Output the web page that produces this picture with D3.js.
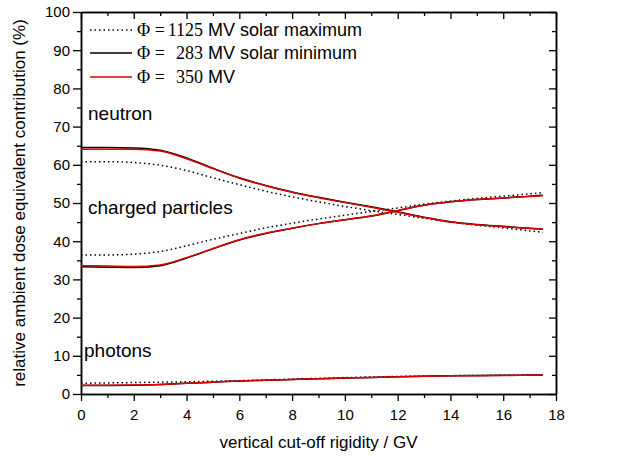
<!DOCTYPE html>
<html>
<head>
<meta charset="utf-8">
<script src="https://cdn.jsdelivr.net/npm/d3@7"></script>
<style>
  body { margin: 0; background: #fff; }
  text { font-family: "Liberation Sans", Arial, sans-serif; fill: #000; }
</style>
</head>
<body>
<div id="chart"></div>
<script>
// rigidity values (GV)
const rigidity = [0, 1, 2, 3, 4, 5, 6, 7, 8, 9, 10, 11, 12, 13, 14, 15, 16, 17, 17.5];

// neutron contribution (%)
const neutronMax = [60.8, 60.8, 60.6, 59.9, 58.5, 56.6, 54.8, 53.1, 51.6, 50.3, 49.1, 48.0, 47.0, 46.0, 45.0, 44.2, 43.5, 42.7, 42.3];
const neutronMin = [64.5, 64.5, 64.4, 63.8, 61.8, 59.1, 56.6, 54.6, 52.9, 51.5, 50.2, 49.0, 47.7, 46.3, 45.1, 44.4, 43.9, 43.4, 43.2];
const neutron350 = [64.1, 64.1, 64.1, 63.6, 61.6, 59.0, 56.5, 54.5, 52.8, 51.4, 50.1, 48.9, 47.6, 46.2, 45.0, 44.3, 43.8, 43.3, 43.1];

// charged particles contribution (%)
const chargedMax = [36.4, 36.4, 36.6, 37.3, 38.8, 40.5, 42.0, 43.5, 44.7, 45.8, 46.8, 47.8, 48.7, 49.7, 50.5, 51.2, 51.8, 52.4, 52.7];
const chargedMin = [33.3, 33.2, 33.1, 33.6, 35.6, 38.0, 40.3, 42.0, 43.4, 44.6, 45.6, 46.6, 48.0, 49.4, 50.3, 50.9, 51.3, 51.8, 52.0];
const charged350 = [33.6, 33.5, 33.4, 33.8, 35.7, 38.1, 40.4, 42.1, 43.4, 44.6, 45.6, 46.6, 48.0, 49.4, 50.3, 50.9, 51.3, 51.7, 51.9];

// photon contribution (%)
const photonMax = [2.8, 2.9, 3.0, 3.1, 3.2, 3.35, 3.5, 3.7, 3.9, 4.1, 4.3, 4.45, 4.6, 4.7, 4.8, 4.85, 4.9, 4.95, 5.0];
const photonMin = [2.2, 2.25, 2.3, 2.5, 2.8, 3.1, 3.4, 3.6, 3.8, 4.0, 4.2, 4.35, 4.5, 4.65, 4.8, 4.85, 4.9, 4.95, 5.0];
const photon350 = [2.3, 2.3, 2.35, 2.5, 2.8, 3.1, 3.4, 3.6, 3.8, 4.0, 4.2, 4.35, 4.5, 4.65, 4.75, 4.8, 4.85, 4.9, 4.95];

const xTicks = [0, 2, 4, 6, 8, 10, 12, 14, 16, 18];
const yTicks = [0, 10, 20, 30, 40, 50, 60, 70, 80, 90, 100];

const legendNumbers = ["1125", "283", "350"];
const legendLabels = ["MV solar maximum", "MV solar minimum", "MV"];

const width = 628, height = 456;
const margin = {top: 12, right: 72, bottom: 62, left: 81};
const w = width - margin.left - margin.right;
const h = height - margin.top - margin.bottom;

const svg = d3.select("#chart")
    .append("svg")
    .attr("width", width)
    .attr("height", height)
    .append("g")
    .attr("transform", "translate(" + margin.left + "," + margin.top + ")");

const x = d3.scaleLinear().domain([0, 18]).range([0, w]);
const y = d3.scaleLinear().domain([0, 100]).range([h, 0]);

// Axes: major + minor ticks
function styleAxis(g) {
    g.select(".domain").attr("stroke", "#000").attr("stroke-width", 1.5);
    g.selectAll(".tick line").attr("stroke", "#000").attr("stroke-width", 1.3);
    g.selectAll("text").style("font-size", "15px").style("font-family", "Liberation Sans, Arial, sans-serif");
}

const xMinor = d3.range(1, 18, 2);
const yMinor = d3.range(5, 100, 10);

// bottom
svg.append("g").attr("transform", "translate(0," + h + ")")
    .call(d3.axisBottom(x).tickValues(xTicks).tickSize(7).tickSizeOuter(0).tickPadding(8))
    .call(styleAxis);
svg.append("g").attr("transform", "translate(0," + h + ")")
    .call(d3.axisBottom(x).tickValues(xMinor).tickSize(4).tickFormat("").tickSizeOuter(0))
    .call(styleAxis);
// top (inward)
svg.append("g")
    .call(d3.axisTop(x).tickValues(xTicks).tickSize(-7).tickFormat("").tickSizeOuter(0))
    .call(styleAxis);
svg.append("g")
    .call(d3.axisTop(x).tickValues(xMinor).tickSize(-4).tickFormat("").tickSizeOuter(0))
    .call(styleAxis);
// left
svg.append("g")
    .call(d3.axisLeft(y).tickValues(yTicks).tickSize(8).tickSizeOuter(0).tickPadding(3))
    .call(styleAxis);
svg.append("g")
    .call(d3.axisLeft(y).tickValues(yMinor).tickSize(4).tickFormat("").tickSizeOuter(0))
    .call(styleAxis);
// right (inward)
svg.append("g").attr("transform", "translate(" + w + ",0)")
    .call(d3.axisRight(y).tickValues(yTicks).tickSize(-7).tickFormat("").tickSizeOuter(0))
    .call(styleAxis);
svg.append("g").attr("transform", "translate(" + w + ",0)")
    .call(d3.axisRight(y).tickValues(yMinor).tickSize(-4).tickFormat("").tickSizeOuter(0))
    .call(styleAxis);

// Axis titles
svg.append("text")
    .attr("x", w / 2)
    .attr("y", h + 54)
    .attr("text-anchor", "middle")
    .style("font-size", "17px")
    .text("vertical cut-off rigidity / GV");

svg.append("text")
    .attr("transform", "rotate(-90)")
    .attr("x", -h / 2)
    .attr("y", -56)
    .attr("text-anchor", "middle")
    .style("font-size", "17px")
    .text("relative ambient dose equivalent contribution (%)");

// Lines
const line = d3.line()
    .x((d, i) => x(rigidity[i]))
    .y(d => y(d))
    .curve(d3.curveMonotoneX);

const series = [
    {data: neutronMax, stroke: "#000", dash: "1.5,3"},
    {data: chargedMax, stroke: "#000", dash: "1.5,3"},
    {data: photonMax, stroke: "#000", dash: "1.5,3"},
    {data: neutronMin, stroke: "#000", dash: null},
    {data: chargedMin, stroke: "#000", dash: null},
    {data: photonMin, stroke: "#000", dash: null},
    {data: neutron350, stroke: "#e00000", dash: null},
    {data: charged350, stroke: "#e00000", dash: null},
    {data: photon350, stroke: "#e00000", dash: null}
];

svg.selectAll(".series")
    .data(series)
    .enter().append("path")
    .attr("class", "series")
    .attr("d", d => line(d.data))
    .attr("fill", "none")
    .attr("stroke", d => d.stroke)
    .attr("stroke-width", 1.5)
    .attr("stroke-dasharray", d => d.dash);

// Component labels
const labels = [
    {text: "neutron", v: 71.6, dx: 7},
    {text: "charged particles", v: 47.0, dx: 7},
    {text: "photons", v: 9.7, dx: 3}
];
svg.selectAll(".comp")
    .data(labels)
    .enter().append("text")
    .attr("class", "comp")
    .attr("x", d => d.dx)
    .attr("y", d => y(d.v))
    .style("font-size", "19px")
    .text(d => d.text);

// Legend
const legendStyles = [
    {stroke: "#000", dash: "1.5,3"},
    {stroke: "#000", dash: null},
    {stroke: "#e00000", dash: null}
];
const legend = svg.selectAll(".legend")
    .data(legendNumbers)
    .enter().append("g")
    .attr("class", "legend")
    .attr("transform", (d, i) => "translate(0," + [18, 41, 65][i] + ")");

legend.append("line")
    .attr("x1", 9).attr("x2", 51)
    .attr("y1", 0).attr("y2", 0)
    .attr("stroke", (d, i) => legendStyles[i].stroke)
    .attr("stroke-width", 1.3)
    .attr("stroke-dasharray", (d, i) => legendStyles[i].dash);

legend.append("text")
    .attr("x", 56).attr("y", 6)
    .style("font-family", "Liberation Serif, Times New Roman, serif")
    .style("font-size", "18px")
    .text("\u03A6 =");

legend.append("text")
    .attr("x", 122).attr("y", 6)
    .attr("text-anchor", "end")
    .style("font-family", "Liberation Serif, Times New Roman, serif")
    .style("font-size", "18px")
    .text(d => d);

legend.append("text")
    .attr("x", 127).attr("y", 6)
    .style("font-family", "Liberation Sans, Arial, sans-serif")
    .style("font-size", "18px")
    .text((d, i) => legendLabels[i]);
</script>
</body>
</html>
